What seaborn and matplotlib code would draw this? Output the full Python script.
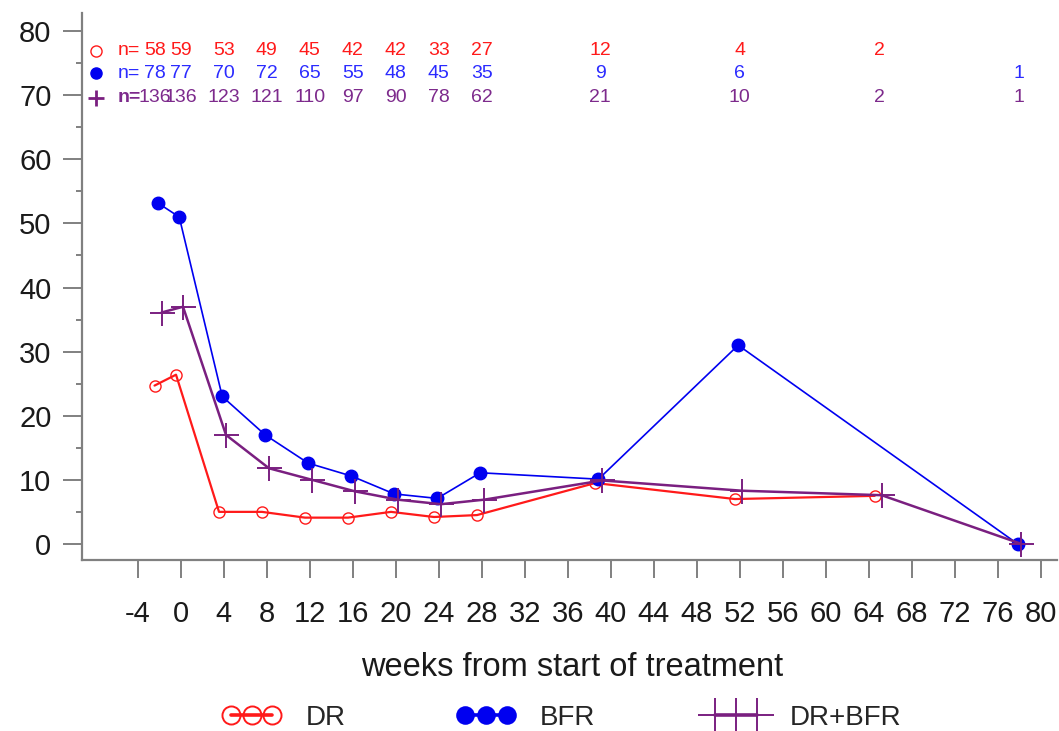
import matplotlib
matplotlib.use("Agg")
import matplotlib.pyplot as plt
from matplotlib.lines import Line2D
from matplotlib.ticker import MultipleLocator
import numpy as np
import pandas as pd
import seaborn as sns

# ---- data -------------------------------------------------------------
weeks_dr = [-2, 0, 4, 8, 12, 16, 20, 24, 28, 39, 52, 65]
vals_dr = [24.7, 26.4, 5.0, 5.0, 4.1, 4.1, 5.0, 4.2, 4.5, 9.5, 7.0, 7.5]
n_dr = [58, 59, 53, 49, 45, 42, 42, 33, 27, 12, 4, 2]

weeks_bfr = [-2, 0, 4, 8, 12, 16, 20, 24, 28, 39, 52, 78]
vals_bfr = [53.2, 51.0, 23.0, 17.0, 12.6, 10.6, 7.8, 7.1, 11.1, 10.1, 31.0, 0.0]
n_bfr = [78, 77, 70, 72, 65, 55, 48, 45, 35, 9, 6, 1]

weeks_combo = [-2, 0, 4, 8, 12, 16, 20, 24, 28, 39, 52, 65, 78]
vals_combo = [36.1, 37.0, 17.0, 11.8, 10.0, 8.2, 6.9, 6.2, 6.9, 9.9, 8.3, 7.6, 0.0]
n_combo = [136, 136, 123, 121, 110, 97, 90, 78, 62, 21, 10, 2, 1]

group_names = ["DR", "BFR", "DR+BFR"]
x_ticks = list(range(-4, 81, 4))
y_ticks = list(range(0, 81, 10))
x_label = "weeks from start of treatment"

# ---- style ------------------------------------------------------------
sns.set_style("white")
plt.rcParams["font.family"] = ["Liberation Sans", "DejaVu Sans"]
plt.rcParams["axes.unicode_minus"] = False

RED = "#ff1a1a"
BLUE = "#0000f0"
PURPLE = "#7a1f80"
GRAY = "#808080"

styles = {
    "DR": dict(color=RED, marker="o", markersize=8, markerfacecolor="none",
               markeredgecolor=RED, markeredgewidth=1.0, linewidth=1.6,
               dodge=-0.45, text=RED, legend_ms=13),
    "BFR": dict(color=BLUE, marker="o", markersize=9, markerfacecolor=BLUE,
                markeredgecolor=BLUE, markeredgewidth=1.0, linewidth=1.2,
                dodge=-0.15, text="#2b2bff", legend_ms=12),
    "DR+BFR": dict(color=PURPLE, marker="+", markersize=18, markerfacecolor=PURPLE,
                   markeredgecolor=PURPLE, markeredgewidth=1.4, linewidth=1.8,
                   dodge=0.2, text="#7d2a8c", legend_ms=24),
}

series = {
    "DR": (weeks_dr, vals_dr, n_dr),
    "BFR": (weeks_bfr, vals_bfr, n_bfr),
    "DR+BFR": (weeks_combo, vals_combo, n_combo),
}

fig = plt.figure(figsize=(10.59, 7.31), dpi=100)
ax = fig.add_axes([0.0774, 0.234, 0.9206, 0.748])

for name in group_names:
    wk, vals, _ = series[name]
    st = styles[name]
    df = pd.DataFrame({"week": np.array(wk, dtype=float) + st["dodge"], "value": vals})
    sns.lineplot(data=df, x="week", y="value", ax=ax, errorbar=None, legend=False,
                 color=st["color"], marker=st["marker"], markersize=st["markersize"],
                 markerfacecolor=st["markerfacecolor"], markeredgecolor=st["markeredgecolor"],
                 markeredgewidth=st["markeredgewidth"], linewidth=st["linewidth"])

# ---- sample-size rows -------------------------------------------------
row_y = {"DR": 76.9, "BFR": 73.4, "DR+BFR": 69.6}
row_marker = {"DR": dict(marker="o", ms=8, mfc="none", mec=RED, mew=1.0),
              "BFR": dict(marker="o", ms=8, mfc=BLUE, mec=BLUE, mew=1.0),
              "DR+BFR": dict(marker="+", ms=11, mfc=PURPLE, mec=PURPLE, mew=2.0)}
for name in group_names:
    wk, _, ns = series[name]
    st = styles[name]
    y = row_y[name]
    ax.plot([-7.9], [y], linestyle="none", **row_marker[name])
    ax.text(-5.9, y, "n=", color=st["text"], fontsize=14, ha="left", va="center",
            fontweight="bold" if name == "DR+BFR" else "normal")
    for w, n in zip(wk, ns):
        xpos = -2.4 if w == -2 else w
        ax.text(xpos, y, str(n), color=st["text"], fontsize=14, ha="center", va="center")

# ---- axes -------------------------------------------------------------
ax.set_xlim(-9.2, 81.5)
ax.set_ylim(-2.5, 82.8)
ax.set_xticks(x_ticks)
ax.set_yticks(y_ticks)
ax.yaxis.set_minor_locator(MultipleLocator(5))
ax.set_xlabel("")
ax.set_ylabel("")

for side in ("top", "right"):
    ax.spines[side].set_visible(False)
for side in ("left", "bottom"):
    ax.spines[side].set_color(GRAY)
    ax.spines[side].set_linewidth(1.6)

ax.tick_params(axis="y", which="major", direction="out", length=14, width=1.4,
               color=GRAY, labelsize=21, pad=8, left=True, labelcolor="#1a1a1a")
ax.tick_params(axis="y", which="minor", direction="out", length=4, width=1.4,
               color=GRAY, left=True)
ax.tick_params(axis="x", which="major", direction="out", length=13, width=1.4,
               color=GRAY, labelsize=21, pad=16, bottom=True, labelcolor="#1a1a1a")

fig.text(572 / 1059, 1 - 668 / 731, x_label, fontsize=23.5, ha="center", va="center",
         color="#1a1a1a")

# legend keys drawn with larger symbols and a heavier line
legend_handles = [
    Line2D([], [], color=styles[n]["color"], linewidth=2.6, marker=styles[n]["marker"],
           markersize=styles[n]["legend_ms"], markerfacecolor=styles[n]["markerfacecolor"],
           markeredgecolor=styles[n]["markeredgecolor"], markeredgewidth=1.4)
    for n in group_names
]
leg = fig.legend(legend_handles, group_names, loc="center", ncol=3,
                 bbox_to_anchor=(562 / 1059, 1 - 718 / 731), frameon=False,
                 numpoints=3, fontsize=20, handlelength=2.1, handletextpad=0.9,
                 columnspacing=4.0)

fig.savefig("out.png", dpi=100)
